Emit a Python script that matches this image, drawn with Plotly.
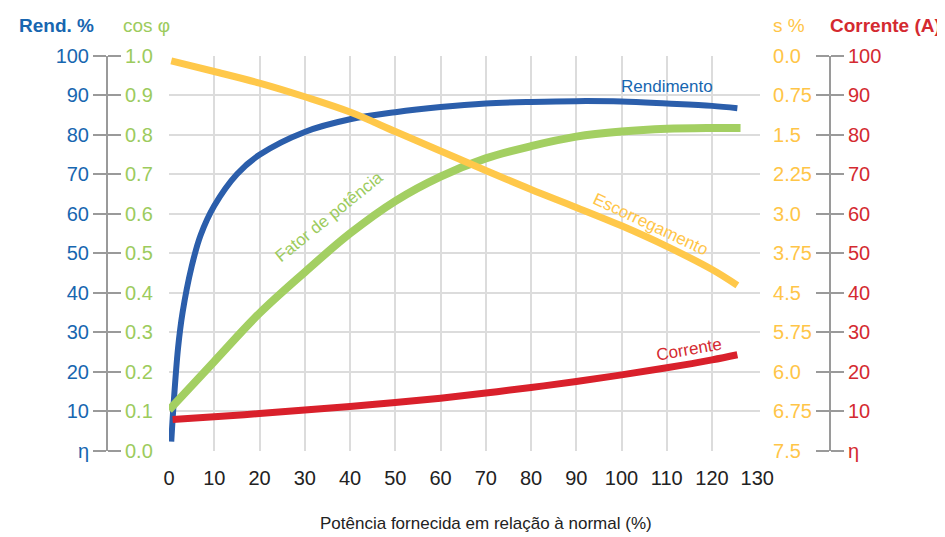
import plotly.graph_objects as go

# ---------------- data ----------------
x_rend = [0.5, 1, 2, 3, 5, 7, 10, 15, 20, 30, 40, 50, 60, 70, 80, 90, 100, 110, 120, 125.6]
rendimento = [2.3, 11.5, 26.0, 35.0, 46.6, 54.6, 62.0, 70.0, 74.9, 80.7, 83.9, 85.7, 87.0, 87.9, 88.3, 88.5, 88.4, 87.9, 87.3, 86.7]

x_fp = [0, 10, 20, 30, 40, 50, 60, 70, 80, 90, 100, 110, 120, 126.3]
fator_potencia = [0.103, 0.226, 0.348, 0.452, 0.550, 0.632, 0.694, 0.740, 0.771, 0.795, 0.808, 0.815, 0.817, 0.817]

x_esc = [0.5, 10, 20, 30, 40, 50, 60, 70, 80, 90, 100, 110, 120, 125.6]
escorregamento = [0.10, 0.30, 0.52, 0.78, 1.07, 1.44, 1.81, 2.18, 2.54, 2.88, 3.23, 3.62, 4.06, 4.36]

x_cor = [0.8, 10, 20, 30, 40, 50, 60, 70, 80, 90, 100, 110, 120, 125.6]
corrente = [7.9, 8.6, 9.4, 10.3, 11.2, 12.2, 13.3, 14.6, 16.0, 17.5, 19.2, 21.0, 23.0, 24.3]

x_ticks = [0, 10, 20, 30, 40, 50, 60, 70, 80, 90, 100, 110, 120, 130]
x_grid = [10, 20, 30, 40, 50, 60, 70, 80, 90, 100, 110, 120]

rend_vals = [0, 10, 20, 30, 40, 50, 60, 70, 80, 90, 100]
rend_text = ["η", "10", "20", "30", "40", "50", "60", "70", "80", "90", "100"]
cos_vals = [0, 0.1, 0.2, 0.3, 0.4, 0.5, 0.6, 0.7, 0.8, 0.9, 1.0]
cos_text = ["0.0", "0.1", "0.2", "0.3", "0.4", "0.5", "0.6", "0.7", "0.8", "0.9", "1.0"]
s_vals = [0, 0.75, 1.5, 2.25, 3.0, 3.75, 4.5, 5.25, 6.0, 6.75, 7.5]
s_text = ["0.0", "0.75", "1.5", "2.25", "3.0", "3.75", "4.5", "5.75", "6.0", "6.75", "7.5"]
cor_vals = [0, 10, 20, 30, 40, 50, 60, 70, 80, 90, 100]
cor_text = ["η", "10", "20", "30", "40", "50", "60", "70", "80", "90", "100"]

# ---------------- styling ----------------
# the page body keeps its default 8 px margin, so the figure is sized to fill the
# remaining visible window and every pixel position below is window position - 8
OFF = 8
W, H = 945 - OFF, 537 - OFF
FONT = "Liberation Sans, Arial, sans-serif"
BLUE_L, BLUE_T = "#2B5EAB", "#1766B0"
GREEN_L, GREEN_T = "#A3CF62", "#9CCB5D"
YEL_L, YEL_T = "#FFC84A", "#FFC547"
RED_L, RED_T = "#D9202B", "#D42A30"
GRAY = "#9A9A9A"
GRID = "#DCDCDC"

def fx(px):
    return (px - OFF) / W

def fy(py):
    return 1 - (py - OFF) / H

xdom = [fx(169), fx(760)]
ydom = [fy(450.7), fy(55.7)]
left_pos = fx(107)
right_pos = fx(830)
TFS = 20

def pad(t):
    # pad short labels with a figure space so all read left-aligned
    return t + "\u2007" if len(t) == 3 else t

fig = go.Figure()
fig.add_trace(go.Scatter(x=x_cor, y=corrente, mode="lines", yaxis="y4",
                         line=dict(color=RED_L, width=7, shape="spline"), hoverinfo="skip"))
fig.add_trace(go.Scatter(x=x_esc, y=escorregamento, mode="lines", yaxis="y3",
                         line=dict(color=YEL_L, width=7, shape="spline"), hoverinfo="skip"))
fig.add_trace(go.Scatter(x=x_fp, y=fator_potencia, mode="lines", yaxis="y2",
                         line=dict(color=GREEN_L, width=8, shape="spline"), hoverinfo="skip"))
fig.add_trace(go.Scatter(x=x_rend, y=rendimento, mode="lines", yaxis="y",
                         line=dict(color=BLUE_L, width=6, shape="spline"), hoverinfo="skip"))
fig.add_trace(go.Scatter(x=[None], y=[None], xaxis="x2", yaxis="y", showlegend=False))

common_y = dict(domain=ydom, anchor="free", showline=True, linecolor=GRAY, linewidth=2,
                ticks="outside", ticklen=13, tickwidth=2, tickcolor=GRAY,
                zeroline=False, fixedrange=True, automargin=False)

fig.update_layout(
    width=W, height=H,
    margin=dict(l=0, r=0, t=0, b=0, pad=0, autoexpand=False),
    paper_bgcolor="white", plot_bgcolor="white",
    showlegend=False,
    font=dict(family=FONT, size=TFS),
    xaxis=dict(domain=xdom, range=[0, 130.6], tickvals=x_ticks,
               ticktext=[str(v) for v in x_ticks], showgrid=False, zeroline=False,
               showline=False, ticks="outside", ticklen=9, tickcolor="rgba(0,0,0,0)",
               tickfont=dict(color="#222222", size=TFS), anchor="y", automargin=False,
               fixedrange=True),
    xaxis2=dict(domain=xdom, range=[0, 130.6], overlaying="x", tickvals=x_grid,
                showticklabels=False, showgrid=True, gridcolor=GRID, gridwidth=1.5,
                zeroline=False, showline=False, ticks="", anchor="y", automargin=False,
                fixedrange=True),
    yaxis=dict(**common_y, range=[0, 100], position=left_pos, side="left",
               tickvals=rend_vals, ticktext=rend_text, tickfont=dict(color=BLUE_T, size=TFS),
               showgrid=True, gridcolor=GRID, gridwidth=1.5),
    yaxis2=dict(**common_y, range=[0, 1], position=left_pos, side="right", overlaying="y",
                tickvals=cos_vals, ticktext=cos_text, tickfont=dict(color=GREEN_T, size=TFS),
                showgrid=False),
    yaxis3=dict(**common_y, range=[7.5, 0], position=right_pos, side="left", overlaying="y",
                tickvals=s_vals, ticktext=[pad(t) for t in s_text],
                tickfont=dict(color=YEL_T, size=TFS), showgrid=False),
    yaxis4=dict(**common_y, range=[0, 100], position=right_pos, side="right", overlaying="y",
                tickvals=cor_vals, ticktext=cor_text, tickfont=dict(color=RED_T, size=TFS),
                showgrid=False),
)

def top_title(text, px, color, bold):
    fig.add_annotation(x=fx(px), y=fy(26), xref="paper", yref="paper",
                       text=f"<b>{text}</b>" if bold else text, showarrow=False,
                       font=dict(family=FONT, size=19, color=color),
                       xanchor="center", yanchor="middle")

top_title("Rend. %", 56, BLUE_T, True)
top_title("cos φ", 146, GREEN_T, False)
top_title("s %", 789, YEL_T, False)
top_title("Corrente (A)", 885, RED_T, True)

fig.add_annotation(x=fx(486), y=fy(523), xref="paper", yref="paper",
                   text="Potência fornecida em relação à normal (%)", showarrow=False,
                   font=dict(family=FONT, size=17, color="#222222"),
                   xanchor="center", yanchor="middle")

def curve_label(text, x, y, color, angle):
    fig.add_annotation(x=x, y=y, xref="x", yref="y", text=text, showarrow=False,
                       textangle=angle, font=dict(family=FONT, size=17, color=color),
                       xanchor="center", yanchor="middle")

curve_label("Rendimento", 110, 92.3, BLUE_T, 0)
curve_label("Fator de potência", 35.5, 59.2, GREEN_T, -39)
curve_label("Escorregamento", 106.5, 57.2, YEL_T, 25)
curve_label("Corrente", 115, 25.5, RED_T, -10)

fig.write_html("out.html")
